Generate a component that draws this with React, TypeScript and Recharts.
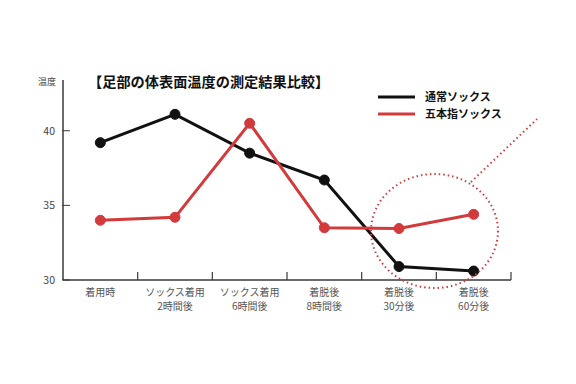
import React from 'react';
import { LineChart, Line, XAxis, YAxis } from 'recharts';

const categories = ['着用時', 'ソックス着用\n2時間後', 'ソックス着用\n6時間後', '着脱後\n8時間後', '着脱後\n30分後', '着脱後\n60分後'];
const normalSocks = [39.2, 41.1, 38.5, 36.7, 30.9, 30.6];
const fiveToeSocks = [34.0, 34.2, 40.5, 33.5, 33.45, 34.4];
const yTicks = [30, 35, 40];

const data = categories.map((name, i) => ({
  name,
  normal: normalSocks[i],
  fiveToe: fiveToeSocks[i],
}));

const FONT = '"Noto Sans CJK JP", "Noto Sans", sans-serif';
const BLACK = '#111111';
const RED = '#d23a3c';
const AXIS = '#3a3a3a';
const BAND = 448 / categories.length;

const YTick = (props: any) => {
  const { x, y, payload } = props;
  return (
    <g>
      <line x1={x - 1} x2={x + 7} y1={y} y2={y} stroke={AXIS} strokeWidth={1} />
      <text x={x - 8} y={y + 4} textAnchor="end" fontSize={10.5} fill="#444" fontFamily={FONT}>
        {payload.value}
      </text>
    </g>
  );
};

const XTick = (props: any) => {
  const { x, y, payload } = props;
  const lines = String(payload.value).split('\n');
  const bx = x + BAND / 2;
  return (
    <g>
      <line x1={bx} x2={bx} y1={y - 8} y2={y} stroke={AXIS} strokeWidth={1.2} />
      {lines.map((l, i) => (
        <text key={i} x={x} y={y + 16 + i * 14} textAnchor="middle" fontSize={10} fill="#555" fontFamily={FONT}>
          {l}
        </text>
      ))}
    </g>
  );
};

export default function App() {
  return (
    <div style={{ position: 'absolute', left: 0, top: 0, width: 576, height: 384, background: '#fff', fontFamily: FONT }}>
      <LineChart width={576} height={384} data={data} margin={{ top: 80, right: 65, left: 0, bottom: 0 }}>
        <XAxis
          dataKey="name"
          height={104}
          interval={0}
          padding={{ left: BAND / 2, right: BAND / 2 }}
          tickLine={false}
          tickSize={0}
          tickMargin={0}
          axisLine={{ stroke: AXIS, strokeWidth: 1.5 }}
          tick={<XTick />}
        />
        <YAxis
          width={63}
          domain={[30, 43.4]}
          ticks={yTicks}
          tickLine={false}
          tickSize={0}
          tickMargin={0}
          axisLine={{ stroke: AXIS, strokeWidth: 1.5 }}
          tick={<YTick />}
        />
        <Line
          dataKey="normal"
          name="通常ソックス"
          stroke={BLACK}
          strokeWidth={3}
          dot={{ r: 5, fill: BLACK, stroke: BLACK, strokeWidth: 1 }}
          isAnimationActive={false}
        />
        <Line
          dataKey="fiveToe"
          name="五本指ソックス"
          stroke={RED}
          strokeWidth={3}
          dot={{ r: 5, fill: RED, stroke: RED, strokeWidth: 1 }}
          isAnimationActive={false}
        />
      </LineChart>
      <svg width={576} height={384} style={{ position: 'absolute', left: 0, top: 0, pointerEvents: 'none' }}>
        <text x={38} y={85} fontSize={9} fill="#444" fontFamily={FONT}>温度</text>
        <text x={88} y={87} fontSize={14.2} fontWeight="bold" fill="#111" fontFamily={FONT}>【足部の体表面温度の測定結果比較】</text>
        <line x1={378} x2={415} y1={97} y2={97} stroke={BLACK} strokeWidth={3} />
        <text x={425} y={101} fontSize={11} fontWeight="bold" fill="#111" fontFamily={FONT}>通常ソックス</text>
        <line x1={378} x2={415} y1={114} y2={114} stroke={RED} strokeWidth={3} />
        <text x={425} y={118} fontSize={11} fontWeight="bold" fill="#111" fontFamily={FONT}>五本指ソックス</text>
        <ellipse cx={434.5} cy={231} rx={63.5} ry={57} fill="none" stroke={RED} strokeWidth={2} strokeDasharray="1.5 3" />
        <line x1={471} y1={182} x2={537} y2={119} stroke={RED} strokeWidth={2} strokeDasharray="1.5 3" />
      </svg>
    </div>
  );
}
